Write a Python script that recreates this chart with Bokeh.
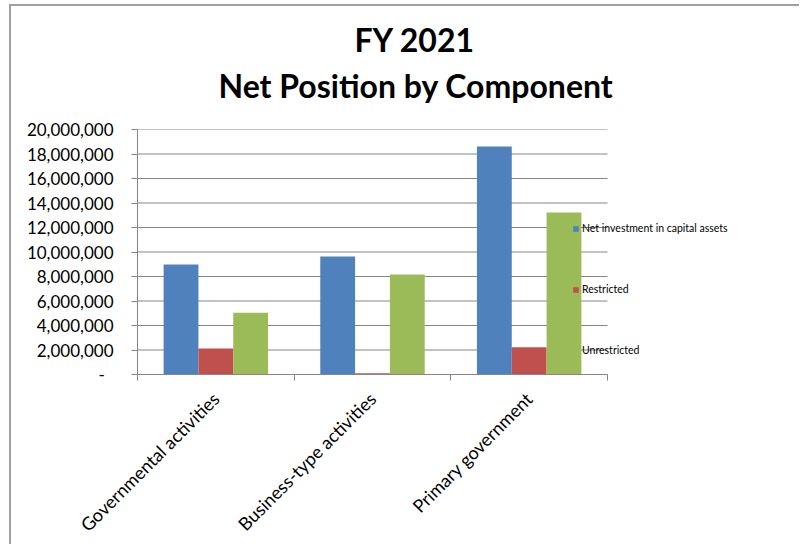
from bokeh.plotting import figure
from bokeh.models import (FixedTicker, CustomJSTickFormatter, Legend, LegendItem,
                          Title, Range1d)
from bokeh.embed import file_html
from bokeh.resources import INLINE

# ---- data ----
categories = ["Governmental activities", "Business-type activities", "Primary government"]
series_names = ["Net investment in capital assets", "Restricted", "Unrestricted"]
net_investment = [8980000, 9630000, 18610000]
restricted = [2120000, 100000, 2220000]
unrestricted = [5050000, 8170000, 13220000]
colors = ["#4F81BD", "#C0504D", "#9BBB59"]
y_ticks = [0, 2000000, 4000000, 6000000, 8000000, 10000000,
           12000000, 14000000, 16000000, 18000000, 20000000]
title_lines = ["FY 2021", "Net Position by Component"]

FONT = "Lato"
GRID = "#868686"

# page geometry
MX, MY = 11, 6                  # figure offset in the page (chart-area border sits just outside)
FL, FR, FT, FB = 137, 607, 129, 376   # plot area edges in page pixels
PW, PH = 801, 546
n_cat = len(categories)
x_end = n_cat * (PW - 1 - FL) / (FR - FL)   # frame runs on to the right so the legend is not clipped

p = figure(width=PW - MX, height=PH - MY, output_backend="svg", toolbar_location=None,
           title=None, x_range=Range1d(0, x_end),
           y_range=Range1d(y_ticks[0], y_ticks[-1]),
           min_border_left=FL - MX, min_border_right=1,
           min_border_top=FT - MY, min_border_bottom=PH - FB)
p.margin = (MY, 0, 0, MX)
p.styles = {"box-shadow": "-2px -2px 0 0 #A0A0A0"}
p.outline_line_color = None
p.background_fill_color = "white"
p.border_fill_color = "white"

# horizontal gridlines limited to the plot area
p.segment(x0=[0] * len(y_ticks), x1=[n_cat] * len(y_ticks), y0=y_ticks, y1=y_ticks,
          line_color=GRID, line_width=1)

bar_w = 1 / 4.5
centers = [i + 0.5 for i in range(n_cat)]
series = [net_investment, restricted, unrestricted]
renderers = []
for k, vals in enumerate(series):
    xs = [c + (k - 1) * bar_w for c in centers]
    r = p.vbar(x=xs, top=vals, width=bar_w, bottom=0,
               fill_color=colors[k], line_color=None)
    renderers.append(r)

dummy = p.vbar(x=[], top=[], width=0.1, fill_alpha=0, line_alpha=0)

# ---- axes ----
p.xaxis.bounds = (0, n_cat)
p.xaxis.ticker = FixedTicker(ticks=centers, minor_ticks=list(range(n_cat + 1)))
p.xaxis.formatter = CustomJSTickFormatter(
    args=dict(labels=categories),
    code="return labels[Math.round(tick - 0.5)];")
p.xaxis.major_label_orientation = 0.785398
p.xaxis.major_tick_out = 0
p.xaxis.major_tick_in = 0
p.xaxis.minor_tick_out = 6
p.xaxis.minor_tick_in = 0
p.xaxis.minor_tick_line_color = GRID
p.xaxis.axis_line_color = GRID
p.xaxis.major_label_standoff = 15
p.xaxis.major_label_text_font = FONT
p.xaxis.major_label_text_font_size = "18px"
p.xaxis.major_label_text_color = "black"

p.yaxis.ticker = FixedTicker(ticks=y_ticks, minor_ticks=[])
p.yaxis.formatter = CustomJSTickFormatter(
    code="return tick == 0 ? '-\u00a0\u00a0' : tick.toLocaleString('en-US');")
p.yaxis.major_tick_out = 6
p.yaxis.major_tick_in = 0
p.yaxis.major_tick_line_color = GRID
p.yaxis.axis_line_color = GRID
p.yaxis.major_label_standoff = 18
p.yaxis.major_label_text_font = FONT
p.yaxis.major_label_text_font_size = "17px"
p.yaxis.major_label_text_color = "black"

p.grid.visible = False

# ---- legend ----
legend = Legend(items=[
    LegendItem(label=series_names[0], renderers=[renderers[0]]),
    LegendItem(label=series_names[1], renderers=[renderers[1]]),
    LegendItem(label=series_names[2], renderers=[dummy]),
], location=(572 - FL, 18))
legend.glyph_width = 7
legend.glyph_height = 7
legend.label_height = 7
legend.label_standoff = 3
legend.spacing = 49
legend.padding = 0
legend.margin = 0
legend.border_line_color = None
legend.background_fill_alpha = 0
legend.label_text_font = FONT
legend.label_text_font_size = "10.5px"
legend.label_text_color = "black"
p.add_layout(legend, "center")

# ---- title (two lines) ----
p.add_layout(Title(text=title_lines[1], align="left", offset=81, standoff=0,
                   padding=dict(left=0, right=0, top=0, bottom=25),
                   text_font=FONT, text_font_style="bold", text_font_size="32px",
                   text_color="black"), "above")
p.add_layout(Title(text=title_lines[0], align="left", offset=217, standoff=0,
                   padding=dict(left=0, right=0, top=0, bottom=5),
                   text_font=FONT, text_font_style="bold", text_font_size="32px",
                   text_color="black"), "above")

open("out.html", "w").write(file_html(p, INLINE))
